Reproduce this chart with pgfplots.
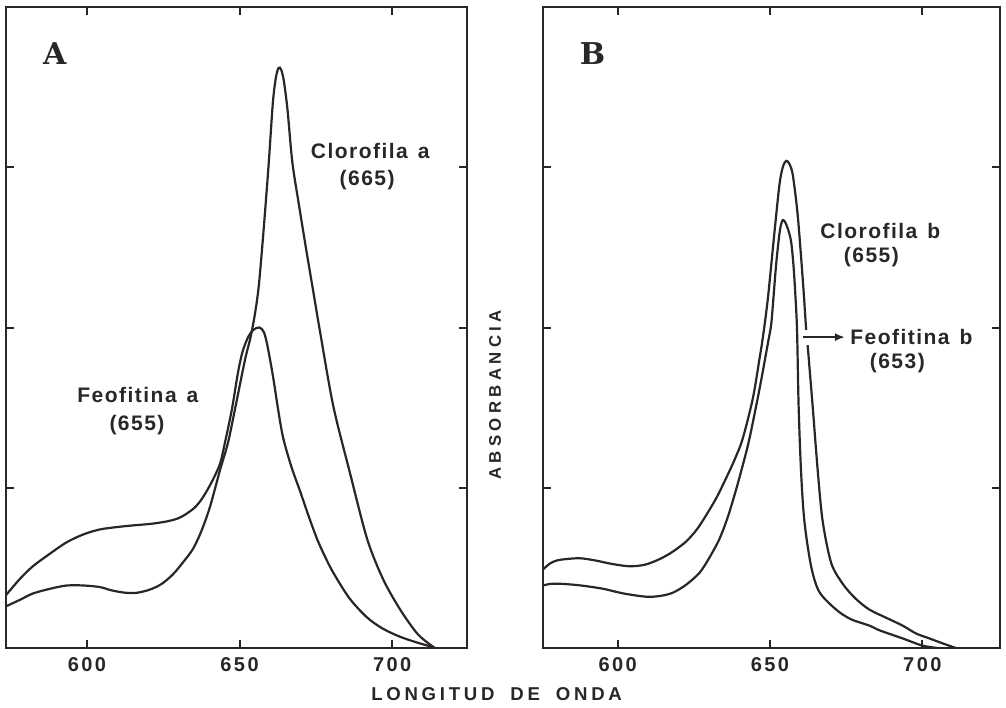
\documentclass[border=0pt]{standalone}
\usepackage{fontspec}
\setmainfont{Liberation Sans}
\newfontfamily\annfont[LetterSpace=7]{Liberation Sans}
\newfontfamily\tickfont[LetterSpace=12]{Liberation Sans}
\newfontfamily\labfont[LetterSpace=20]{Liberation Sans}
\newfontfamily\labfontB[LetterSpace=26]{Liberation Sans}
\newfontfamily\panfont{DejaVu Serif}
\usepackage{pgfplots}
\pgfplotsset{compat=1.18}
\usetikzlibrary{arrows.meta}
\definecolor{ink}{RGB}{42,38,38}

\pgfplotsset{spec/.style={
  scale only axis, height=320.5pt, anchor=south west,
  ymin=0, ymax=4, ytick={1,2,3}, yticklabels={},
  xtick={600,650,700}, xticklabels={600,650,700},
  xtick pos=both, ytick pos=both,
  tick align=inside, major tick length=4pt,
  axis line style={line width=1.25pt, ink},
  tick style={line width=1pt, ink},
  xticklabel style={font=\tickfont\bfseries\fontsize{10}{10}\selectfont, text=ink, yshift=-1pt},
  /pgf/number format/assume math mode=true,
  cycle list={{ink, line width=1.1pt, smooth, tension=0.5, no markers}},
}}
\tikzset{crv/.style={ink, line width=1.1pt, smooth, tension=0.5}}

\begin{document}
\begin{tikzpicture}
\useasboundingbox (0,0) rectangle (503pt,353.5pt);

% ---------- Panel A ----------
\begin{axis}[spec, at={(3pt,29.5pt)}, width=230.5pt, xmin=573.5, xmax=724.5]
% Feofitina a
\addplot[crv] table {
573.5 0.33
578 0.43
582.3 0.51
588 0.59
593.4 0.66
599 0.71
604.3 0.74
610 0.755
615.1 0.765
621 0.775
626.2 0.79
630 0.81
632.8 0.84
635.5 0.88
638 0.94
641 1.04
643.6 1.15
645.2 1.28
647.5 1.49
649.5 1.72
651 1.85
652.8 1.94
654.5 1.985
656.5 2.00
658 1.97
659.2 1.88
661 1.69
662.7 1.48
664.3 1.31
667 1.13
669.8 0.98
672.5 0.83
675.4 0.68
678 0.57
680.7 0.47
686 0.31
691.8 0.19
697 0.12
702.6 0.07
708 0.035
712.5 0.01
714 0
};
% Clorofila a
\addplot[crv] table {
573.5 0.26
578 0.30
582.3 0.34
588 0.37
593.4 0.39
599 0.39
604.3 0.38
608 0.36
612.5 0.345
616.5 0.345
620.7 0.365
624.5 0.40
628.2 0.46
631.5 0.535
634.8 0.62
637.5 0.73
640.3 0.88
643.6 1.11
646.2 1.28
648.5 1.49
651.8 1.80
653.5 1.93
655.0 2.08
656.3 2.26
657.8 2.59
659.5 3.01
660.9 3.40
661.9 3.56
662.8 3.62
663.6 3.61
664.5 3.54
665.7 3.36
667.3 3.03
669.5 2.76
671.8 2.49
674.1 2.23
676.4 1.97
680.7 1.51
686.2 1.09
691.8 0.68
697.0 0.43
702.6 0.24
708.2 0.09
712.5 0.02
714 0
};
\node[font=\panfont\bfseries\fontsize{15}{15}\selectfont, text=ink] at (axis cs:589.5,3.71) {A};
\node[font=\annfont\bfseries\fontsize{10.5}{11}\selectfont, text=ink] at (axis cs:692.8,3.10) {Clorofila\hspace{5pt}a};
\node[font=\annfont\bfseries\fontsize{10.5}{11}\selectfont, text=ink] at (axis cs:691.8,2.92) {(665)};
\node[font=\annfont\bfseries\fontsize{10.5}{11}\selectfont, text=ink] at (axis cs:616.7,1.58) {Feofitina\hspace{5pt}a};
\node[font=\annfont\bfseries\fontsize{10.5}{11}\selectfont, text=ink] at (axis cs:616.4,1.39) {(655)};
\end{axis}

% ---------- Panel B ----------
\begin{axis}[spec, at={(271.5pt,29.5pt)}, width=228.5pt, xmin=575.5, xmax=725.5]
% Clorofila b
\addplot[crv] table {
575.5 0.49
578 0.53
581 0.55
587.5 0.56
593 0.545
598 0.525
603.9 0.51
609 0.52
613.8 0.555
618 0.60
622.5 0.665
626 0.74
629.1 0.83
632.5 0.94
635.6 1.06
638.5 1.18
641.1 1.31
644.4 1.56
646.6 1.81
647.6 1.93
649.3 2.18
651.5 2.60
653.1 2.89
654.2 3.00
655.3 3.04
656.4 3.02
657.5 2.95
659.1 2.70
660.8 2.29
661.9 1.98
662.4 1.88
664.0 1.51
665.7 1.10
667.3 0.79
670.1 0.53
673.9 0.40
678 0.31
682.6 0.24
688 0.19
693.5 0.14
698 0.09
702.3 0.06
706.5 0.03
711.0 0
};
% Feofitina b
\addplot[crv] table {
575.5 0.39
578 0.40
582 0.40
588 0.39
595.1 0.37
602 0.34
609.4 0.32
614 0.325
618.1 0.345
622.5 0.395
626.9 0.47
630 0.56
633.4 0.68
636.2 0.82
638.9 0.99
641.2 1.15
643.3 1.31
646.6 1.62
649.3 1.90
650.4 2.02
651.2 2.20
652.0 2.39
653.0 2.57
653.6 2.64
654.2 2.67
654.9 2.66
655.8 2.62
656.9 2.54
657.7 2.39
658.4 2.18
658.9 1.97
659.4 1.51
660.2 1.10
661.3 0.79
663.5 0.51
666.2 0.35
671.7 0.24
676.5 0.18
682.6 0.14
686 0.11
693.5 0.06
700 0.015
705 0
};
\draw[white, line width=7.5pt] (axis cs:661.6,1.94) -- (axis cs:663.2,1.94);
\draw[ink, line width=1pt, -{Latex[length=5pt,width=4pt]}] (axis cs:660.7,1.94) -- (axis cs:674.6,1.94);
\node[font=\panfont\bfseries\fontsize{15}{15}\selectfont, text=ink] at (axis cs:591.8,3.71) {B};
\node[font=\annfont\bfseries\fontsize{10.5}{11}\selectfont, text=ink] at (axis cs:686.2,2.60) {Clorofila\hspace{5pt}b};
\node[font=\annfont\bfseries\fontsize{10.5}{11}\selectfont, text=ink] at (axis cs:683.3,2.44) {(655)};
\node[font=\annfont\bfseries\fontsize{10.5}{11}\selectfont, text=ink] at (axis cs:696.4,1.94) {Feofitina\hspace{5pt}b};
\node[font=\annfont\bfseries\fontsize{10.5}{11}\selectfont, text=ink] at (axis cs:691.8,1.78) {(653)};
\end{axis}

\node[font=\labfont\bfseries\fontsize{9.3}{10}\selectfont, text=ink] at (248.3pt,6.5pt) {LONGITUD\hspace{8pt}DE\hspace{8pt}ONDA};
\node[font=\labfontB\bfseries\fontsize{8.4}{9}\selectfont, text=ink, rotate=90] at (247.5pt,156pt) {ABSORBANCIA};
\end{tikzpicture}
\end{document}
